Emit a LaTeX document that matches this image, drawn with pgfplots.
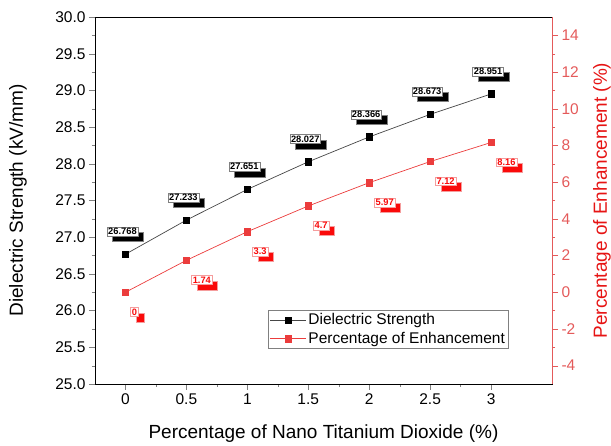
\documentclass[border=0pt]{standalone}
\usepackage{pgfplots}
\pgfplotsset{compat=1.18}
\usepackage{pgfplotstable}
\usepackage{fontspec}
\setmainfont{Liberation Sans}
\usetikzlibrary{shadows}
\definecolor{serred}{RGB}{235,60,60}
\definecolor{axred}{RGB}{228,90,90}
\definecolor{txtred}{RGB}{230,20,20}
\definecolor{lblred}{RGB}{250,10,10}
\definecolor{linegray}{RGB}{70,70,70}

\pgfplotstableread{
x y lab
0 26.768 26.768
0.5 27.233 27.233
1 27.651 27.651
1.5 28.027 28.027
2 28.366 28.366
2.5 28.673 28.673
3 28.951 28.951
}\dstable

\pgfplotstableread{
x y lab
0 0 0
0.5 1.74 1.74
1 3.3 3.3
1.5 4.7 4.7
2 5.97 5.97
2.5 7.12 7.12
3 8.16 8.16
}\entable

\begin{document}
\begin{tikzpicture}
\pgfplotsset{
  every axis/.append style={
    scale only axis, width=457pt, height=367pt,
    xmin=-0.25, xmax=3.5,
    tick align=outside,
    major tick length=6pt, minor tick length=3pt,
    tick label style={font=\fontsize{15.5}{17}\selectfont},
    label style={font=\fontsize{19}{21}\selectfont},
    /pgf/number format/assume math mode=true,
  }
}
\begin{axis}[
  ymin=25, ymax=30,
  ytick={25,25.5,...,30},
  xtick={0,0.5,...,3},
  minor x tick num=1,
  minor y tick num=1,
  xtick pos=bottom, ytick pos=left,
  yticklabel style={/pgf/number format/.cd, fixed, fixed zerofill, precision=1},
  xticklabel style={/pgf/number format/.cd, fixed},
  axis line style={black, line width=0.9pt},
  xlabel={Percentage of Nano Titanium Dioxide (\%)},
  ylabel={Dielectric Strength (kV/mm)},
  xlabel style={at={(axis description cs:0.5,-0.1362)}, anchor=center},
  ylabel style={at={(axis description cs:-0.1685,0.5)}, anchor=center},
  nodes near coords,
  point meta=explicit symbolic,
  every node near coord/.style={anchor=south, xshift=-3pt, yshift=18pt,
    font=\bfseries\fontsize{9.3}{10}\selectfont, text=black,
    fill=white, draw=gray, line width=0.4pt, inner sep=1.2pt,
    drop shadow={shadow xshift=5.5pt, shadow yshift=-5.5pt, fill=black, opacity=1}},
]
\addplot[linegray, line width=0.7pt, mark=square*, mark size=3.2pt,
  mark options={fill=black, draw=black}] table[x=x, y=y, meta=lab] {\dstable};
\end{axis}
\begin{axis}[
  ymin=-5, ymax=15,
  ytick={-4,-2,...,14},
  minor y tick num=1,
  axis y line*=right, axis x line=none,
  y axis line style={axred, line width=0.9pt},
  ytick style={axred},
  yticklabel style={text=axred},
  ylabel={Percentage of Enhancement (\%)},
  ylabel style={text=txtred, at={(axis description cs:1.1094,0.5)}, anchor=center, rotate=0},
  legend style={at={(rel axis cs:0.3786,0.2016)}, anchor=north west,
    draw=gray, line width=0.4pt, font=\fontsize{15.5}{17}\selectfont,
    inner sep=1.5pt, row sep=2pt},
  legend cell align=left,
  legend image code/.code={\draw[mark repeat=2,mark phase=2,#1] plot coordinates {(0pt,0pt) (18pt,0pt) (36pt,0pt)};},
  nodes near coords,
  point meta=explicit symbolic,
  every node near coord/.style={anchor=north west, xshift=5pt, yshift=-15pt,
    font=\bfseries\fontsize{9.3}{10}\selectfont, text=lblred,
    fill=white, draw=serred!50, line width=0.4pt, inner sep=1.2pt,
    drop shadow={shadow xshift=5.5pt, shadow yshift=-5.5pt, fill=lblred, opacity=1}},
]
\addlegendimage{linegray, line width=0.7pt, mark=square*, mark size=3pt, mark options={fill=black, draw=black}}
\addlegendentry{Dielectric Strength}
\addplot[serred, line width=0.7pt, mark=square*, mark size=3.2pt,
  mark options={fill=serred, draw=serred}] table[x=x, y=y, meta=lab] {\entable};
\addlegendentry{Percentage of Enhancement}
\end{axis}
\pgfresetboundingbox
\path (-95pt,-62pt) rectangle (516pt,384pt);
\end{tikzpicture}
\end{document}
